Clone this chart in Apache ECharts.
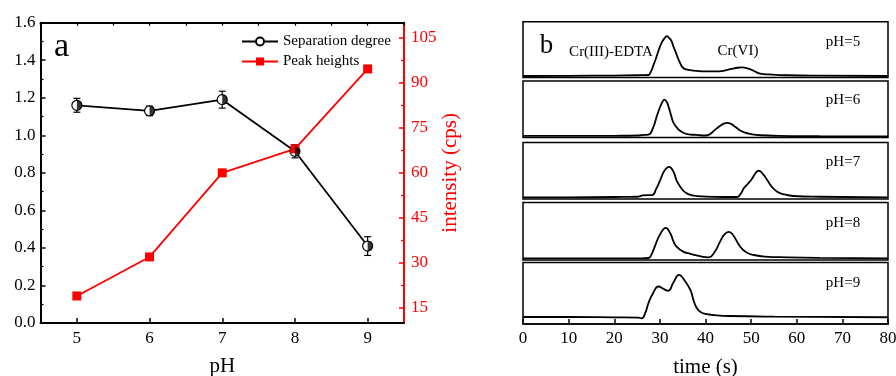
<!DOCTYPE html>
<html><head><meta charset="utf-8">
<script src="https://cdn.jsdelivr.net/npm/echarts@6/dist/echarts.min.js"></script>
<style>html,body{margin:0;padding:0;background:#fff}#c{width:896px;height:376px}</style>
</head><body><div id="c"></div>
<script>
// ---- Panel a data ----
const pHValues = [5, 6, 7, 8, 9];
const separationDegree = [1.16, 1.13, 1.19, 0.915, 0.41];
const separationError = [0.037, 0.025, 0.045, 0.035, 0.05];
const peakHeights = [19, 32, 60, 68, 94.6];
const xLabelValues = [5, 6, 7, 8, 9];
const rightLabelValues = [15, 30, 45, 60, 75, 90, 105];
const rightMinorTicks = [22.5, 37.5, 52.5, 67.5, 82.5, 97.5];

// ---- Panel b data (chromatograms, relative signal % of panel) ----
const timeTicks = [0, 10, 20, 30, 40, 50, 60, 70, 80];
const panelLabels = ['pH=5', 'pH=6', 'pH=7', 'pH=8', 'pH=9'];
const t_pH5 = [0, 10, 20, 25, 27.5, 28, 28.5, 29, 29.5, 30, 30.5, 31, 31.5, 32, 32.5, 33, 33.5, 34, 34.5, 35, 36, 38, 40, 42, 44, 45, 46, 47, 48, 49, 50, 51, 52, 54, 58, 65, 80];
const v_pH5 = [2.7, 3, 3.5, 4, 4.5, 10, 20, 31, 43, 55, 64, 70, 74, 71, 66, 55, 45, 34, 25, 18, 14, 12, 11, 11, 12, 14, 16, 17.5, 18, 17, 14, 10, 7, 5.5, 4, 3.2, 2.7];
const t_pH6 = [0, 10, 20, 25, 26.5, 27.5, 28.5, 29.5, 30.5, 31, 31.5, 32, 32.5, 33, 34, 35, 36, 38, 40, 41, 42, 43, 44, 44.7, 45.5, 46.5, 47.5, 48.5, 50, 52, 56, 65, 80];
const v_pH6 = [2.7, 2.7, 3, 3.5, 4.5, 5, 17, 42, 62, 67, 63, 52, 38, 26, 15, 9, 6, 4.5, 3.5, 6, 13, 19.5, 24.5, 26, 24.5, 19, 13, 9, 6, 4, 3, 2.5, 2];
const t_pH7 = [0, 10, 20, 25, 26.3, 27.3, 28.3, 29.2, 30.1, 31, 32, 33, 33.7, 34.8, 35.9, 37.5, 39.4, 44, 46.9, 47.7, 48.4, 49.3, 50.2, 51, 51.6, 52.4, 53.5, 54.5, 55.7, 57.3, 59.3, 65, 80];
const v_pH7 = [3, 3, 3.5, 4, 6.5, 7, 7, 18, 34, 50, 57, 48, 32, 18, 10, 6, 4.5, 3.5, 3.5, 9, 19, 27, 36, 46, 50, 46, 34, 22, 13, 8, 5.3, 4, 3];
const t_pH8 = [0, 10, 20, 26, 27.5, 28.3, 29, 30, 31.3, 32.3, 33, 33.7, 35, 36.7, 38.5, 40.7, 42, 43.2, 44.2, 45.1, 46, 47.6, 49, 50.6, 53, 58, 65, 80];
const v_pH8 = [3, 3, 3, 3, 3.5, 12, 26, 44, 56, 46, 32, 23, 15, 10.5, 7, 4.7, 14, 32, 45, 49, 44, 23, 13, 8.7, 6, 4.7, 3.8, 3];
const t_pH9 = [0, 10, 20, 25.3, 26, 26.8, 27.5, 28.5, 29.7, 30.8, 31.8, 33, 34.2, 35.3, 36.7, 37.4, 38.1, 39, 40.3, 42.5, 45, 55, 80];
const v_pH9 = [11.4, 11.4, 10.8, 10.3, 9.3, 18, 34, 50, 61, 57, 54, 68, 80, 72, 55, 38, 26, 19, 16, 14, 13, 12, 11];
const chromTimes = [t_pH5, t_pH6, t_pH7, t_pH8, t_pH9];
const chromValues = [v_pH5, v_pH6, v_pH7, v_pH8, v_pH9];

// ---- Layout ----
const FONT = 'Liberation Serif, Times New Roman, serif';
const panelTops = [21.7, 81, 142.5, 202.5, 262.5];
const panelHeights = [55.8, 56.5, 56.5, 57.5, 61.5];

const chart = echarts.init(document.getElementById('c'), null, {renderer: 'canvas'});

const grids = [{left: 40.5, top: 22.7, width: 363.5, height: 300.3, outerBoundsMode: 'none', containLabel: false}];
panelTops.forEach((t, i) => grids.push({left: 523, top: t, width: 365, height: panelHeights[i], show: true, borderColor: '#000', borderWidth: 1.5, backgroundColor: 'transparent', outerBoundsMode: 'none', containLabel: false}));

const xAxes = [
  {type: 'value', gridIndex: 0, min: 4.5, max: 9.5, name: 'pH', nameLocation: 'middle', nameGap: 33,
   nameTextStyle: {fontFamily: FONT, fontSize: 21, color: '#000'},
   axisLine: {lineStyle: {color: '#000', width: 2}},
   axisTick: {inside: true, length: 5, lineStyle: {width: 1.5}, customValues: xLabelValues},
   axisLabel: {customValues: xLabelValues, fontFamily: FONT, fontSize: 17, color: '#000', margin: 7},
   splitLine: {show: false}},
  {type: 'value', gridIndex: 0, min: 4.5, max: 9.5, interval: 0.5,
   axisLine: {show: false}, axisTick: {inside: true, length: 3, lineStyle: {color: '#000', width: 1.2}},
   axisLabel: {show: false}, splitLine: {show: false}},
  {type: 'value', gridIndex: 0, min: 4.5, max: 9.5, position: 'top',
   axisLine: {lineStyle: {color: '#000', width: 2}}, axisTick: {show: false}, axisLabel: {show: false}, splitLine: {show: false}}
];
const yAxes = [
  {type: 'value', gridIndex: 0, min: 0, max: 1.6, interval: 0.2,
   axisLine: {show: true, lineStyle: {color: '#000', width: 2}},
   axisTick: {show: true, inside: true, length: 5, lineStyle: {width: 1.5}},
   minorTick: {show: true, splitNumber: 2, length: 3, lineStyle: {color: '#000', width: 1.2}},
   axisLabel: {fontFamily: FONT, fontSize: 17, color: '#000', margin: 5, formatter: v => v.toFixed(1)},
   splitLine: {show: false}},
  {type: 'value', gridIndex: 0, min: 10, max: 110, position: 'right',
   name: 'intensity (cps)', nameLocation: 'middle', nameGap: 34, nameRotate: 90,
   nameTextStyle: {fontFamily: FONT, fontSize: 21, color: '#ff0000'},
   axisLine: {show: true, lineStyle: {color: '#ff0000', width: 2}},
   axisTick: {show: true, inside: true, length: 5, lineStyle: {width: 1.5}, customValues: rightLabelValues},
   axisLabel: {customValues: rightLabelValues, fontFamily: FONT, fontSize: 17, color: '#ff0000', margin: 7},
   splitLine: {show: false}},
  {type: 'value', gridIndex: 0, min: 10, max: 110, position: 'right',
   axisLine: {show: false},
   axisTick: {show: true, inside: true, length: 3, lineStyle: {color: '#ff0000', width: 1.2}, customValues: rightMinorTicks},
   axisLabel: {show: false}, splitLine: {show: false}}
];
panelTops.forEach((t, i) => {
  const last = i === panelTops.length - 1;
  xAxes.push({type: 'value', gridIndex: i + 1, min: 0, max: 80, interval: 10, show: last,
    name: last ? 'time (s)' : '', nameLocation: 'middle', nameGap: 33,
    nameTextStyle: {fontFamily: FONT, fontSize: 21, color: '#000'},
    axisLine: {lineStyle: {color: '#000', width: 1.5}},
    axisTick: {inside: true, length: 5, lineStyle: {width: 1.5}},
    axisLabel: {fontFamily: FONT, fontSize: 17, color: '#000', margin: 6},
    splitLine: {show: false}});
  yAxes.push({type: 'value', gridIndex: i + 1, min: 0, max: 100, show: false, splitLine: {show: false}});
});

const series = [
  {type: 'custom', name: 'err', xAxisIndex: 0, yAxisIndex: 0, silent: true, z: 3,
   data: pHValues.map((x, i) => [x, separationDegree[i] - separationError[i], separationDegree[i] + separationError[i]]),
   encode: {x: 0, y: [1, 2]},
   renderItem: (params, api) => {
     const x = api.value(0);
     const p1 = api.coord([x, api.value(2)]);
     const p2 = api.coord([x, api.value(1)]);
     const w = 3.5;
     const st = {stroke: '#000', lineWidth: 1.2};
     return {type: 'group', children: [
       {type: 'line', shape: {x1: p1[0], y1: p1[1], x2: p2[0], y2: p2[1]}, style: st},
       {type: 'line', shape: {x1: p1[0] - w, y1: p1[1], x2: p1[0] + w, y2: p1[1]}, style: st},
       {type: 'line', shape: {x1: p2[0] - w, y1: p2[1], x2: p2[0] + w, y2: p2[1]}, style: st}
     ]};
   }},
  {type: 'line', name: 'Separation degree', xAxisIndex: 0, yAxisIndex: 0, z: 4,
   data: pHValues.map((x, i) => [x, separationDegree[i]]),
   symbol: 'circle', symbolSize: 10, showAllSymbol: true,
   lineStyle: {color: '#000', width: 1.8},
   itemStyle: {color: '#fff', borderColor: '#000', borderWidth: 1.2}},
  {type: 'scatter', name: 'sdHalf', xAxisIndex: 0, yAxisIndex: 0, z: 5, silent: true,
   data: pHValues.map((x, i) => [x, separationDegree[i]]),
   symbol: 'path://M0,0 A10,10 0 0 1 0,20 Z', symbolSize: [5, 10], symbolOffset: [2.5, 0],
   itemStyle: {color: '#000'}},
  {type: 'line', name: 'Peak heights', xAxisIndex: 0, yAxisIndex: 1, z: 4,
   data: pHValues.map((x, i) => [x, peakHeights[i]]),
   symbol: 'rect', symbolSize: 9,
   lineStyle: {color: '#ff0000', width: 1.8},
   itemStyle: {color: '#ff0000'}}
];
chromTimes.forEach((ts, i) => {
  series.push({type: 'line', xAxisIndex: 3 + i, yAxisIndex: 3 + i, silent: true,
    data: ts.map((t, j) => [t, chromValues[i][j]]),
    smooth: 0.5, symbol: 'none',
    lineStyle: {color: '#000', width: 1.8}});
});

const txt = (x, y, text, size, color) => ({type: 'text', x: x, y: y, silent: true,
  style: {text: text, fill: color || '#000', font: size + 'px ' + FONT, textAlign: 'center', textVerticalAlign: 'middle'}});
const graphics = [
  txt(61.5, 47, 'a', 34),
  txt(546.5, 46, 'b', 27),
  txt(611, 52, 'Cr(III)-EDTA', 15),
  txt(738, 51, 'Cr(VI)', 15)
];
const labelYs = [42, 100, 162, 223, 283];
panelLabels.forEach((l, i) => graphics.push(txt(843, labelYs[i], l, 15)));

chart.setOption({
  backgroundColor: '#fff',
  animation: false,
  grid: grids,
  xAxis: xAxes,
  yAxis: yAxes,
  legend: {data: ['Separation degree', 'Peak heights'], orient: 'vertical', left: 236, top: 29,
    itemWidth: 36, itemHeight: 10, itemGap: 5,
    textStyle: {fontFamily: FONT, fontSize: 15, color: '#000'}},
  graphic: graphics,
  series: series
});
</script></body></html>
